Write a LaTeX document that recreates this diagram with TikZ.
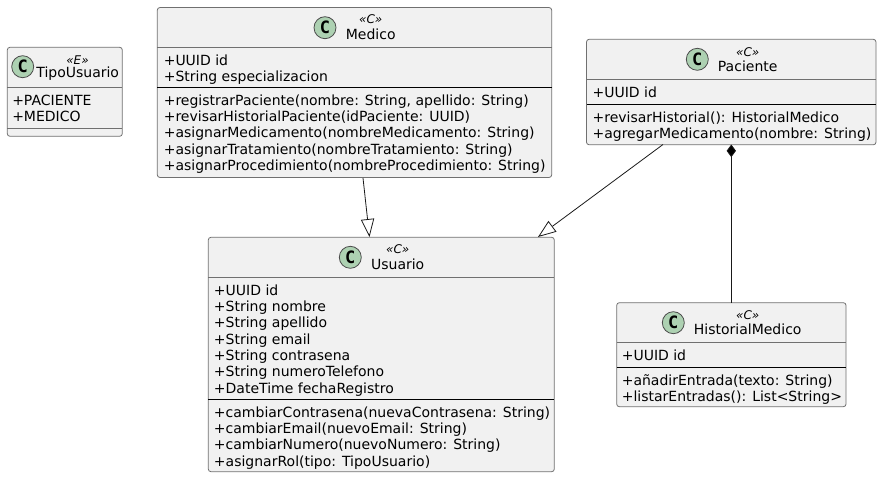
\documentclass[tikz,border=0pt]{standalone}
\usepackage{fontspec}
\setmainfont{DejaVu Sans}
\setmonofont{DejaVu Sans Mono}
\usetikzlibrary{positioning}
\usetikzlibrary{arrows.meta}
\definecolor{boxfill}{HTML}{F1F1F1}
\definecolor{boxline}{HTML}{707070}
\definecolor{spotfill}{HTML}{ADD1B2}
\tikzset{
  classbox/.style={draw=boxline,fill=boxfill,line width=0.6pt,rounded corners=2pt,anchor=north west,inner sep=0pt,outer sep=0pt},
  spot/.style={circle,draw=black!70,fill=spotfill,line width=0.6pt,minimum size=16.5pt,inner sep=0pt,font=\fontsize{12.75}{13}\selectfont\ttfamily\bfseries},
  classname/.style={inner sep=0pt,font=\fontsize{10.5}{12}\selectfont},
  stereo/.style={inner sep=0pt,font=\fontsize{9}{10}\selectfont\itshape},
  members/.style={inner sep=0pt,anchor=north west,align=left,font=\fontsize{10.5}{12.2}\selectfont},
  grayrule/.style={draw=boxline,line width=0.6pt},
  blackrule/.style={draw=black,line width=0.6pt},
  link/.style={draw=black!90,line width=0.6pt},
  extends/.style={link,-{Triangle[open,length=13.5pt,width=10pt,fill=white]}},
  composed/.style={link,{Diamond[length=9.5pt,width=7pt,fill=black]}-}
}
\begin{document}
\begin{tikzpicture}[x=0.75pt,y=-0.75pt]
  \useasboundingbox (0,0) rectangle (882,478);

  % TipoUsuario
  \node[classbox,minimum width=86.25pt,minimum height=66.75pt] at (7.3,47.3) (tipo) {};
  \node[spot] at (22.7,66.7) (tipospot) {C};
  \node[stereo] at (77.5,60) (tipostereo) {«E»};
  \node[classname] at (77.7,74) (tiponame) {TipoUsuario};
  \draw[grayrule] (tipo.west |- 0,87.7) -- (tipo.east |- 0,87.7);
  \draw[grayrule] (tipo.west |- 0,128.3) -- (tipo.east |- 0,128.3);
  \node[members] at (12,94.7) (tipoattr) {+PACIENTE\\+MEDICO};

  % Medico
  \node[classbox,minimum width=295.8pt,minimum height=127.5pt] at (157.3,7.5) (medico) {};
  \node[spot] at (325,27.7) (medicospot) {C};
  \node[stereo] at (370.7,19.5) (medicostereo) {«C»};
  \node[classname] at (370.7,34.5) (mediconame) {Medico};
  \draw[grayrule] (medico.west |- 0,47.3) -- (medico.east |- 0,47.3);
  \draw[blackrule] (medico.west |- 0,87.3) -- (medico.east |- 0,87.3);
  \node[members] at (163.5,54.3) (medicoattr) {+UUID id\\+String especializacion};
  \node[members] at (163.5,94.3) (medicometh) {+registrarPaciente(nombre: String, apellido: String)\\
    +revisarHistorialPaciente(idPaciente: UUID)\\
    +asignarMedicamento(nombreMedicamento: String)\\
    +asignarTratamiento(nombreTratamiento: String)\\
    +asignarProcedimiento(nombreProcedimiento: String)};

  % Paciente
  \node[classbox,minimum width=217.125pt,minimum height=79.125pt] at (586.5,39.3) (paciente) {};
  \node[spot] at (697.3,59.3) (pacientespot) {C};
  \node[stereo] at (747.7,52) (pacientestereo) {«C»};
  \node[classname] at (747.7,66) (pacientename) {Paciente};
  \draw[grayrule] (paciente.west |- 0,79.5) -- (paciente.east |- 0,79.5);
  \draw[blackrule] (paciente.west |- 0,104.7) -- (paciente.east |- 0,104.7);
  \node[members] at (592.3,86.5) (pacienteattr) {+UUID id};
  \node[members] at (592.3,111.7) (pacientemeth) {+revisarHistorial(): HistorialMedico\\
    +agregarMedicamento(nombre: String)};

  % Usuario
  \node[classbox,minimum width=259.5pt,minimum height=175.8pt] at (208.3,237.3) (usuario) {};
  \node[spot] at (350.3,257.3) (usuariospot) {C};
  \node[stereo] at (397.7,249) (usuariostereo) {«C»};
  \node[classname] at (397.7,264) (usuarioname) {Usuario};
  \draw[grayrule] (usuario.west |- 0,277.7) -- (usuario.east |- 0,277.7);
  \draw[blackrule] (usuario.west |- 0,399.4) -- (usuario.east |- 0,399.4);
  \node[members] at (213.7,284.5) (usuarioattr) {+UUID id\\+String nombre\\+String apellido\\+String email\\
    +String contrasena\\+String numeroTelefono\\+DateTime fechaRegistro};
  \node[members] at (213.7,406.4) (usuariometh) {+cambiarContrasena(nuevaContrasena: String)\\
    +cambiarEmail(nuevoEmail: String)\\
    +cambiarNumero(nuevoNumero: String)\\
    +asignarRol(tipo: TipoUsuario)};

  % HistorialMedico
  \node[classbox,minimum width=172pt,minimum height=78pt] at (616.7,302.7) (historial) {};
  \node[spot] at (673.3,322.7) (historialspot) {C};
  \node[stereo] at (747.7,315) (historialstereo) {«C»};
  \node[classname] at (747.7,329) (historialname) {HistorialMedico};
  \draw[grayrule] (historial.west |- 0,342.3) -- (historial.east |- 0,342.3);
  \draw[blackrule] (historial.west |- 0,367) -- (historial.east |- 0,367);
  \node[members] at (621.5,349.3) (historialattr) {+UUID id};
  \node[members] at (621.5,374) (historialmeth) {+añadirEntrada(texto: String)\\
    +listarEntradas(): List<String>};

  % relations
  \coordinate (medicoout) at (363,178);
  \coordinate (usuariotop) at (369.5,237);
  \coordinate (pacienteout) at (663,144.5);
  \coordinate (usuariocorner) at (538,237);
  \coordinate (pacientediamond) at (731.3,144.5);
  \coordinate (historialtop) at (731.3,302.5);
  \draw[extends] (medicoout) -- (usuariotop);
  \draw[extends] (pacienteout) -- (usuariocorner);
  \draw[composed] (pacientediamond) -- (historialtop);
\end{tikzpicture}
\end{document}
